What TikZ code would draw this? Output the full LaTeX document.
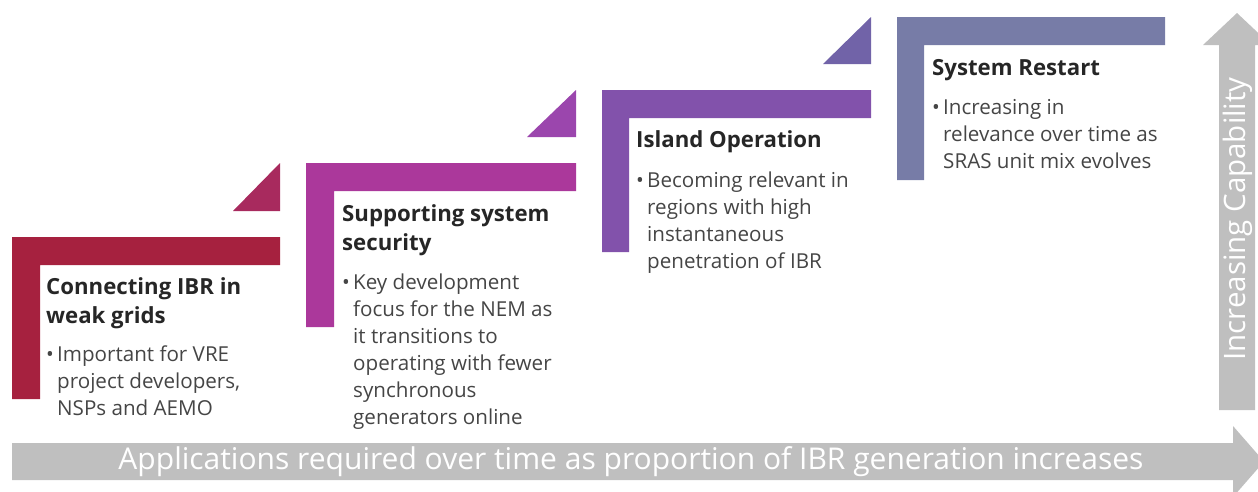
\documentclass[tikz,border=0pt]{standalone}
\usepackage{fontspec}
\setmainfont{Open Sans}
\definecolor{cA}{HTML}{A6213F}
\definecolor{tA}{HTML}{A82A5E}
\definecolor{cB}{HTML}{AB389B}
\definecolor{tB}{HTML}{9B46AD}
\definecolor{cC}{HTML}{8252AB}
\definecolor{tC}{HTML}{7163A8}
\definecolor{cD}{HTML}{777CA7}
\definecolor{arrowgray}{HTML}{BFBFBF}
\definecolor{titlecol}{HTML}{262626}
\definecolor{bodycol}{HTML}{454545}
\newcommand{\mybul}{\makebox[11pt][l]{\textbullet}}
\newcommand{\myind}{\kern11pt}
\tikzset{
  titletext/.style={anchor=base west, inner sep=0pt, text=titlecol, font=\fontsize{22.2}{29}\selectfont\bfseries},
  bodytext/.style={anchor=base west, inner sep=0pt, text=bodycol, font=\fontsize{20.6}{27}\selectfont},
  arrowtext/.style={inner sep=0pt, text=white, font=\fontsize{30}{32}\selectfont}
}
\begin{document}
\begin{tikzpicture}[x=1pt,y=-1pt]
\useasboundingbox (0,0) rectangle (1258,491);
% arrows
\fill[arrowgray] (12,443) -- (1233,443) -- (1233,426) -- (1264,461.5) -- (1233,497) -- (1233,480) -- (12,480) -- cycle;
\fill[arrowgray] (1219,410) -- (1219,45) -- (1203,45) -- (1237,13) -- (1271,45) -- (1255,45) -- (1255,410) -- cycle;
\node[arrowtext] (htext) at (631,462) {Applications required over time as proportion of IBR generation increases};
\node[arrowtext, rotate=90, font=\fontsize{29.5}{32}\selectfont] (vtext) at (1238,219) {Increasing Capability};
% steps
\fill[cA] (12,237) -- (280,237) -- (280,265) -- (40,265) -- (40,399) -- (12,399) -- cycle;
\fill[tA] (233,211) -- (280,211) -- (280,163) -- cycle;
\fill[cB] (306,163) -- (576,163) -- (576,191) -- (334,191) -- (334,327) -- (306,327) -- cycle;
\fill[tB] (527,137) -- (576,137) -- (576,90) -- cycle;
\fill[cC] (602,90) -- (871,90) -- (871,118) -- (629,118) -- (629,252) -- (602,252) -- cycle;
\fill[tC] (823,64) -- (871,64) -- (871,17) -- cycle;
\fill[cD] (897,17) -- (1165,17) -- (1165,45) -- (924,45) -- (924,180) -- (897,180) -- cycle;
% texts
\node[titletext] (t1) at (46,294) {\vtop{\hbox{Connecting IBR in}\hbox{weak grids}}};
\node[bodytext] (b1) at (46,361) {\vtop{\hbox{\mybul Important for VRE}\hbox{\myind project developers,}\hbox{\myind NSPs and AEMO}}};
\node[titletext] (t2) at (342,221) {\vtop{\hbox{Supporting system}\hbox{security}}};
\node[bodytext] (b2) at (342,289) {\vtop{\hbox{\mybul Key development}\hbox{\myind focus for the NEM as}\hbox{\myind it transitions to}\hbox{\myind operating with fewer}\hbox{\myind synchronous}\hbox{\myind generators online}}};
\node[titletext] (t3) at (636,147) {Island Operation};
\node[bodytext] (b3) at (636,187) {\vtop{\hbox{\mybul Becoming relevant in}\hbox{\myind regions with high}\hbox{\myind instantaneous}\hbox{\myind penetration of IBR}}};
\node[titletext] (t4) at (932,75) {System Restart};
\node[bodytext] (b4) at (932,114) {\vtop{\hbox{\mybul Increasing in}\hbox{\myind relevance over time as}\hbox{\myind SRAS unit mix evolves}}};
\end{tikzpicture}
\end{document}
